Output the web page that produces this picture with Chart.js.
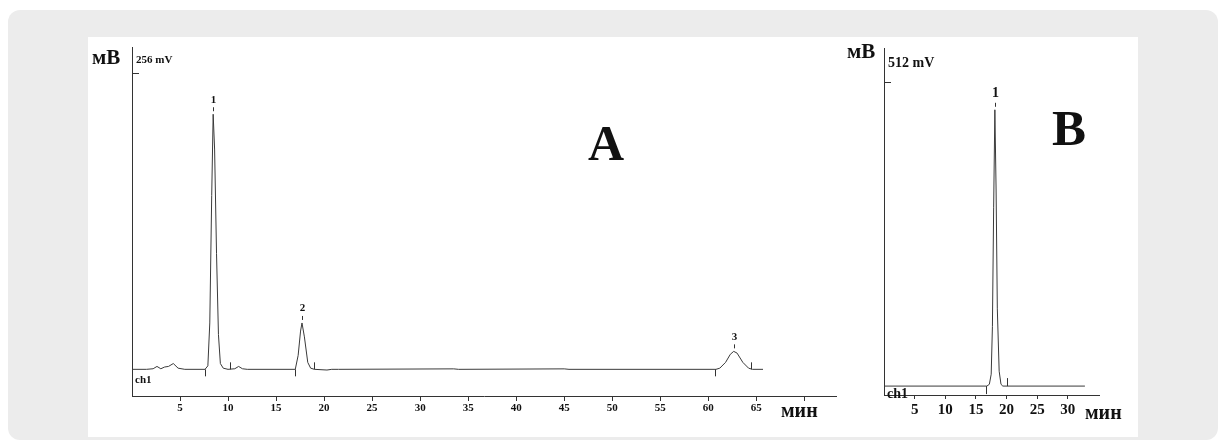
<!DOCTYPE html>
<html>
<head>
<meta charset="utf-8">
<script src="https://cdn.jsdelivr.net/npm/chart.js@4/dist/chart.umd.min.js"></script>
<style>
  body { margin: 0; background: #fff; width: 1226px; height: 445px; position: relative; overflow: hidden; }
  .box { position: absolute; left: 8px; top: 10px; width: 1210px; height: 430px; background: #ececec; border-radius: 12px; }
  .panel { position: absolute; left: 88px; top: 37px; width: 1050px; height: 400px; background: #fff; }
  canvas { position: absolute; }
  .lbl { position: absolute; font-family: 'Liberation Serif', serif; font-weight: bold; color: #111; white-space: nowrap; line-height: 1; }
</style>
</head>
<body>
<div class="box"></div>
<div class="panel"></div>
<canvas id="chartA" width="760" height="400" style="left:88px;top:37px"></canvas>
<canvas id="chartB" width="280" height="400" style="left:850px;top:37px"></canvas>
<div class="lbl" style="left:92px;top:47px;font-size:21px">мВ</div>
<div class="lbl" style="left:847px;top:41px;font-size:21px">мВ</div>
<div class="lbl" style="left:781px;top:400px;font-size:20px">мин</div>
<div class="lbl" style="left:1085px;top:402px;font-size:20px">мин</div>
<div class="lbl" style="left:588px;top:118px;font-size:50px">A</div>
<div class="lbl" style="left:1052px;top:103px;font-size:51px">B</div>
<script>
// panel A chromatogram (time, min / signal, mV)
const timeA = [0, 1.5, 2.2, 2.6, 3.0, 3.4, 3.8, 4.3, 4.8, 5.5, 7.6, 7.9, 8.1, 8.3, 8.45, 8.6, 8.8, 9.0, 9.2, 9.5, 10.0,
  10.7, 11.1, 11.5, 12.0, 17.0, 17.3, 17.55, 17.7, 17.95, 18.3, 18.6, 19.0, 20.3, 20.8, 21.5, 33.5, 34.0, 45.0, 45.5,
  60.8, 61.2, 61.8, 62.3, 62.65, 63.0, 63.6, 64.2, 64.6, 65.7];
const signalA = [0, 0, 0.5, 2.5, 0.5, 2, 2.5, 5, 1, 0, 0, 3, 40, 150, 220, 190, 100, 30, 5, 1, 0,
  0.5, 2.5, 0.5, 0, 0, 12, 33, 40, 28, 6, 1, 0, -0.6, 0, 0, 0.4, 0, 0.4, 0,
  0, 1, 6, 13, 15.5, 14, 6, 1, 0, 0];
const peakTimesA = [8.45, 17.7, 62.65];
const peakTopsA = [220, 40, 15.5];
const peakNamesA = ['1', '2', '3'];
const eventTimesA = [7.6, 10.2, 17.0, 18.9, 60.7, 64.5];
const eventSideA = [-1, 1, -1, 1, -1, 1];
const xTicksA = [5, 10, 15, 20, 25, 30, 35, 40, 45, 50, 55, 60, 65, 70];
const fullScaleA = 256;

// panel B chromatogram
const timeB = [0, 16.8, 17.2, 17.5, 17.7, 17.9, 18.1, 18.3, 18.5, 18.8, 19.1, 19.4, 32.8];
const signalB = [0, 0, 3, 20, 100, 300, 465, 330, 130, 25, 3, 0, 0];
const peakTimesB = [18.1];
const peakTopsB = [465];
const peakNamesB = ['1'];
const eventTimesB = [16.6, 20.0];
const eventSideB = [-1, 1];
const xTicksB = [5, 10, 15, 20, 25, 30];
const fullScaleB = 512;

const serif = 'Liberation Serif';

function marks(cfg) {
  return {
    id: 'marks',
    afterDatasetsDraw(chart) {
      const ctx = chart.ctx, x = chart.scales.x, y = chart.scales.y;
      const a = chart.chartArea;
      const y0 = y.getPixelForValue(0);
      ctx.save();
      ctx.strokeStyle = '#333';
      ctx.fillStyle = '#111';
      ctx.lineWidth = 1;
      // full scale tick
      const yf = Math.round(y.getPixelForValue(cfg.full)) + 0.5;
      ctx.beginPath();
      ctx.moveTo(a.left, yf);
      ctx.lineTo(a.left + 7, yf);
      ctx.stroke();
      ctx.font = 'bold ' + cfg.fs + 'px "' + serif + '"';
      ctx.textBaseline = 'bottom';
      ctx.textAlign = 'left';
      ctx.fillText(cfg.full + ' mV', a.left + 4, yf - cfg.fullGap);
      // channel name
      ctx.textBaseline = 'top';
      ctx.fillText('ch1', a.left + 3, y0 + cfg.chGap);
      // integration events
      for (let i = 0; i < cfg.events.length; i++) {
        const ex = Math.round(x.getPixelForValue(cfg.events[i])) + 0.5;
        ctx.beginPath();
        ctx.moveTo(ex, y0);
        ctx.lineTo(ex, y0 - cfg.side[i] * cfg.evLen);
        ctx.stroke();
      }
      // peak names
      ctx.textAlign = 'center';
      ctx.textBaseline = 'bottom';
      ctx.font = 'bold ' + cfg.pfs + 'px "' + serif + '"';
      for (let i = 0; i < cfg.peaks.length; i++) {
        const px = Math.round(x.getPixelForValue(cfg.peaks[i])) + 0.5;
        const py = y.getPixelForValue(cfg.tops[i]);
        ctx.beginPath();
        ctx.moveTo(px, py - 3);
        ctx.lineTo(px, py - 7);
        ctx.stroke();
        ctx.fillText(cfg.names[i], px, py - 9);
      }
      ctx.restore();
    }
  };
}

function build(id, t, s, o) {
  return new Chart(document.getElementById(id), {
    type: 'line',
    data: {
      datasets: [{
        data: t.map((v, i) => ({ x: v, y: s[i] })),
        borderColor: '#3a3a3a',
        borderWidth: 1,
        pointRadius: 0,
        tension: 0
      }]
    },
    options: {
      responsive: false,
      animation: false,
      devicePixelRatio: 1,
      layout: { padding: o.pad },
      plugins: { legend: { display: false }, tooltip: { enabled: false } },
      scales: {
        x: {
          type: 'linear',
          min: 0,
          max: o.xmax,
          afterBuildTicks: sc => { sc.ticks = o.ticks.map(v => ({ value: v })); },
          afterFit: sc => { sc.height = 30; },
          border: { color: '#333', width: 1 },
          grid: { drawOnChartArea: false, tickLength: o.tickLen, color: '#333' },
          ticks: {
            autoSkip: false,
            maxRotation: 0,
            padding: o.tickPad,
            color: '#111',
            font: { family: serif, weight: 'bold', size: o.tfs },
            callback: v => (v <= o.lastLabel ? String(v) : '')
          }
        },
        y: {
          min: o.ymin,
          max: o.ymax,
          afterFit: sc => { sc.width = 0; },
          border: { color: '#333', width: 1 },
          grid: { display: false },
          ticks: { display: false }
        }
      }
    },
    plugins: [marks(o.marks)]
  });
}

build('chartA', timeA, signalA, {
  pad: { left: 44, top: 10, right: 12, bottom: 11 },
  xmax: 73.3, ymin: -23, ymax: 278,
  ticks: xTicksA, lastLabel: 65, tickLen: 5, tickPad: 1, tfs: 11,
  marks: { full: fullScaleA, fs: 11, fullGap: 8, chGap: 5, events: eventTimesA, side: eventSideA, evLen: 7,
    peaks: peakTimesA, tops: peakTopsA, names: peakNamesA, pfs: 11 }
});

build('chartB', timeB, signalB, {
  pad: { left: 34, top: 11, right: 31, bottom: 12 },
  xmax: 35.1, ymin: -15, ymax: 569,
  ticks: xTicksB, lastLabel: 30, tickLen: 4, tickPad: 2, tfs: 15,
  marks: { full: fullScaleB, fs: 14, fullGap: 12, chGap: 1, events: eventTimesB, side: eventSideB, evLen: 8,
    peaks: peakTimesB, tops: peakTopsB, names: peakNamesB, pfs: 14 }
});
</script>
</body>
</html>
